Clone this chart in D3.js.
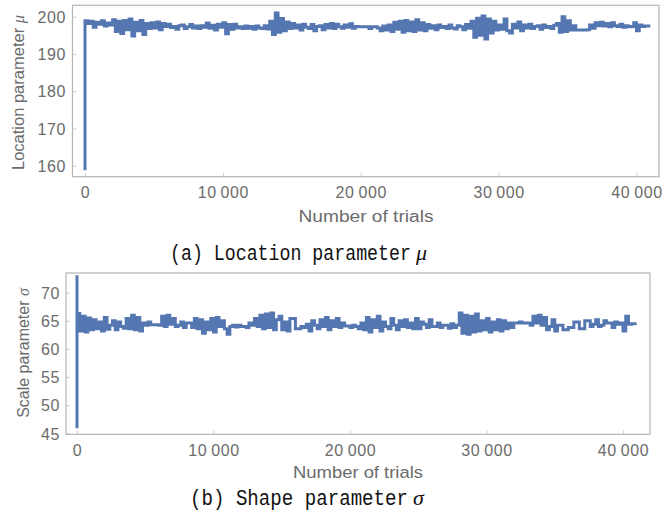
<!DOCTYPE html>
<html><head><meta charset="utf-8">
<script src="https://cdn.jsdelivr.net/npm/d3@7"></script>
<style>body{margin:0;background:#fff}</style>
</head><body>
<svg id="chart" width="662" height="518"></svg>
<script>
// ---------- data ----------
const trialStep = 200;                       // trials per recorded step
const xTickValues = [0, 10000, 20000, 30000, 40000];
const muTicks = [160, 170, 180, 190, 200];
const sigmaTicks = [45, 50, 55, 60, 65, 70];
const muBurnIn = [158.8];                    // value(s) at trial 0
const sigmaBurnIn = [73.1, 45.9];            // value(s) at trial 0
const muValues = [
 198.9,198.2,198.8,197.2,198.5,198.0,198.9,197.5,198.3,197.8,
 199.2,196.0,198.8,195.5,199.0,196.5,199.4,194.8,198.5,196.2,
 199.0,195.2,198.2,196.8,198.4,197.0,198.6,196.5,198.2,197.4,
 198.0,197.1,197.4,196.6,197.6,197.8,196.8,197.3,197.9,197.0,
 197.5,196.8,197.6,197.2,198.3,196.9,197.7,196.4,198.0,197.2,
 198.4,195.4,197.9,196.6,198.0,197.0,197.3,196.8,197.5,196.9,
 197.4,196.6,197.5,197.0,196.8,197.6,196.7,198.8,195.2,201.0,
 195.8,199.5,196.2,198.6,196.8,198.2,197.0,197.8,196.4,198.0,
 197.2,196.8,197.9,196.2,197.4,197.6,196.5,197.9,197.0,198.2,
 196.8,198.0,197.3,196.9,197.8,197.2,198.1,196.9,197.4,197.3,
 197.3,197.3,197.3,196.8,197.3,197.3,197.0,196.2,197.5,196.4,
 197.8,196.0,198.5,196.6,198.8,195.8,199.0,196.2,198.6,196.0,
 199.2,196.4,198.4,196.2,197.9,196.9,197.6,196.5,197.8,197.1,
 197.4,196.8,197.8,197.0,196.7,197.6,197.3,196.5,197.9,196.9,
 198.8,194.5,199.6,195.0,200.2,194.0,199.4,195.6,198.8,196.4,
 197.8,196.6,199.4,196.2,195.6,198.0,197.0,198.6,196.2,197.8,
 197.0,198.0,196.8,197.4,197.6,196.6,197.8,197.1,197.4,196.8,
 197.7,198.2,195.8,200.0,196.0,198.9,196.4,197.6,196.4,196.4,
 196.4,196.4,196.5,197.8,196.9,198.4,197.6,198.5,197.5,198.2,
 197.3,198.4,197.6,197.4,198.0,197.2,197.6,197.3,197.4,198.4,
 196.2,197.8,197.4,197.5,197.5
];
const sigmaValues = [
 66.3,63.2,65.8,63.0,65.5,63.4,65.2,63.6,64.8,63.2,
 65.6,63.5,64.2,65.0,63.4,64.8,64.0,63.7,65.4,63.6,
 66.0,63.4,65.6,63.2,64.6,64.2,64.8,64.3,64.3,64.3,
 64.2,65.8,64.0,66.0,64.4,65.4,64.0,64.2,64.8,63.8,
 64.6,64.6,63.8,65.4,63.6,65.2,62.8,64.8,63.4,65.4,
 63.0,65.6,64.0,65.0,63.6,62.6,64.0,64.2,63.9,64.2,
 64.0,64.0,63.8,64.6,64.2,65.4,64.0,66.0,63.6,66.2,
 63.8,66.4,63.4,65.2,65.8,63.4,64.8,63.2,65.4,65.4,
 63.6,63.6,64.0,63.8,64.4,63.2,65.0,64.2,63.6,65.2,
 64.0,65.6,63.4,65.0,64.0,65.4,63.8,64.6,64.1,64.1,
 63.8,64.2,64.0,63.6,64.6,63.4,65.6,63.0,65.2,63.8,
 65.8,63.2,64.8,64.0,63.6,65.4,64.2,63.4,65.0,64.0,
 65.2,63.8,64.6,63.6,65.4,63.6,64.8,64.4,63.8,65.2,
 64.0,64.0,64.6,63.8,64.2,64.2,63.7,64.5,63.8,64.2,
 66.4,62.8,66.0,62.6,65.8,63.0,66.2,63.2,65.0,63.4,
 65.4,63.0,64.8,63.4,65.2,63.2,65.0,63.6,64.6,63.8,
 64.6,64.6,64.8,64.6,64.6,64.6,64.2,65.8,64.6,66.0,
 64.2,65.6,63.4,64.0,65.2,63.2,64.2,64.2,63.4,63.4,
 63.8,63.8,64.8,64.8,63.6,63.6,65.0,65.0,64.0,64.4,
 65.2,64.0,64.2,65.0,64.6,64.6,63.8,64.8,64.4,64.6,
 63.2,65.8,64.4,64.5,64.5
];
const xTitle = "Number of trials";
const muTitle = "Location parameter ";
const sigmaTitle = "Scale parameter ";
const captionA = "(a) Location parameter";
const captionB = "(b) Shape parameter";

// ---------- drawing ----------
const svg = d3.select("#chart");
const lineColor = "#5577b1";
const textColor = "#6b6b6b";
const frameColor = "#b4b4b4";
const sans = "Liberation Sans, Arial, sans-serif";
const fmt = d3.formatLocale({decimal: ".", thousands: "\u2009", grouping: [3], currency: ["", ""]}).format(",");

function panel(cfg) {
  const g = svg.append("g");
  const x = d3.scaleLinear().domain([0, 40000]).range(cfg.xr);
  const y = d3.scaleLinear().domain(cfg.yd).range(cfg.yr);
  const f = cfg.frame;

  const clipId = "clip" + cfg.id;
  svg.append("clipPath").attr("id", clipId).append("rect")
    .attr("x", f.l).attr("y", f.t).attr("width", f.r - f.l).attr("height", f.b - f.t);

  // ticks (inside frame)
  const xAxis = d3.axisBottom(x).tickValues(xTickValues).tickSize(-4).tickFormat(fmt);
  const ax = g.append("g").attr("transform", `translate(0,${f.b})`).call(xAxis);
  ax.select(".domain").remove();
  ax.selectAll("line").attr("stroke", "#cfcfcf");
  ax.selectAll("text").attr("fill", textColor).attr("font-family", sans)
    .attr("font-size", 16).attr("y", cfg.xLabelBase - f.b).attr("dy", null).attr("letter-spacing", 0.6);

  const yAxis = d3.axisLeft(y).tickValues(cfg.yTicks).tickSize(-4);
  const ay = g.append("g").attr("transform", `translate(${f.l},0)`).call(yAxis);
  ay.select(".domain").remove();
  ay.selectAll("line").attr("stroke", "#cfcfcf");
  ay.selectAll("text").attr("fill", textColor).attr("font-family", sans)
    .attr("font-size", 16).attr("dy", "0.36em").attr("letter-spacing", 0.6)
    .attr("x", cfg.yLabelRight - f.l);

  // frame
  g.append("rect").attr("x", f.l).attr("y", f.t).attr("width", f.r - f.l).attr("height", f.b - f.t)
    .attr("fill", "none").attr("stroke", frameColor).attr("stroke-width", 1.2);

  // trace
  const pts = cfg.burn.map(v => [0, v]).concat(cfg.values.map((v, i) => [(i + 1) * trialStep, v]));
  const line = d3.line().x(d => x(d[0])).y(d => y(d[1])).curve(d3.curveStepBefore);
  g.append("path").attr("d", line(pts)).attr("fill", "none").attr("stroke", lineColor)
    .attr("stroke-width", 3).attr("clip-path", `url(#${clipId})`);

  // x title
  g.append("text").attr("x", cfg.xTitlePos[0]).attr("y", cfg.xTitlePos[1]).attr("text-anchor", "middle")
    .attr("fill", textColor).attr("font-family", sans).attr("font-size", 16)
    .attr("textLength", cfg.xTitleLen).attr("lengthAdjust", "spacingAndGlyphs").text(xTitle);

  // y title (rotated)
  const yt = g.append("text").attr("transform", `translate(${cfg.yTitlePos[0]},${cfg.yTitlePos[1]}) rotate(-90)`)
    .attr("text-anchor", "middle").attr("dy", "0.35em")
    .attr("fill", textColor).attr("font-family", sans).attr("font-size", cfg.yTitleSize);
  yt.append("tspan").text(cfg.yTitle);
  yt.append("tspan").attr("font-family", "Liberation Serif, serif").attr("font-style", "italic").text(cfg.greek);

  // caption: monospace text, horizontally condensed
  const capFont = "Liberation Mono, DejaVu Sans Mono, monospace";
  const natural = cfg.cap.text.length * 0.6 * cfg.cap.size;
  const sx = cfg.cap.len / natural;
  g.append("text").attr("transform", `translate(${cfg.cap.x},${cfg.cap.y}) scale(${sx},1)`)
    .attr("fill", "#111").attr("font-family", capFont).attr("font-size", cfg.cap.size)
    .text(cfg.cap.text);
  g.append("text").attr("x", cfg.cap.x + cfg.cap.len + 5).attr("y", cfg.cap.y).attr("fill", "#111")
    .attr("font-family", "Liberation Serif, serif").attr("font-style", "italic").attr("font-size", cfg.cap.size)
    .text(cfg.greek);
}

panel({
  id: "a", frame: {l: 72.5, r: 659, t: 5.3, b: 176.7},
  xr: [85, 636.5], yd: [160, 200], yr: [165.7, 16.7], yTicks: muTicks,
  burn: muBurnIn, values: muValues,
  xLabelBase: 198.5, yLabelRight: 66,
  xTitlePos: [366, 221.5], xTitleLen: 135,
  yTitlePos: [18.5, 92.5], yTitleSize: 16.5, yTitle: muTitle, greek: "\u03bc",
  cap: {x: 170, y: 260, size: 22, len: 241, text: captionA}
});

panel({
  id: "b", frame: {l: 66, r: 650, t: 273, b: 434.3},
  xr: [77, 623], yd: [45, 70], yr: [433.3, 292.7], yTicks: sigmaTicks,
  burn: sigmaBurnIn, values: sigmaValues,
  xLabelBase: 456, yLabelRight: 60,
  xTitlePos: [358, 477.5], xTitleLen: 130,
  yTitlePos: [23.7, 353], yTitleSize: 16, yTitle: sigmaTitle, greek: "\u03c3",
  cap: {x: 190, y: 505, size: 22, len: 218, text: captionB}
});
</script>
</body></html>
